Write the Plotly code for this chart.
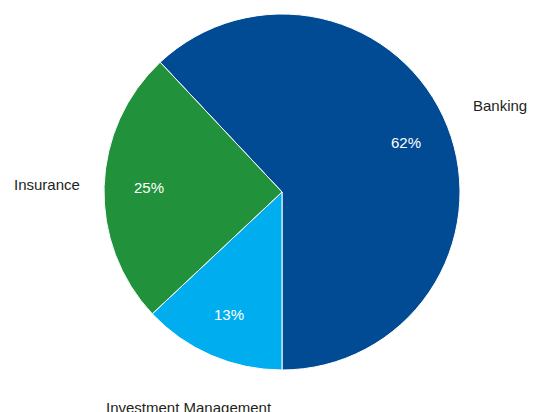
import numpy as np
import plotly.graph_objects as go

# Segment share of the business
segments = ["Banking", "Investment Management", "Insurance"]
shares = [62, 13, 25]
colors = ["#004B93", "#00AEEF", "#22913C"]

W, H = 543, 412
cx, cy, R = 282, 192, 178          # pie centre and radius in px
start_deg = -43.2                  # first slice starts here, clockwise from 12 o'clock

fig = go.Figure(go.Pie(
    labels=segments,
    values=shares,
    sort=False,
    direction="clockwise",
    rotation=start_deg,
    marker=dict(colors=colors, line=dict(color="white", width=1)),
    textinfo="none",
    hoverinfo="label+percent",
    showlegend=False,
    domain=dict(x=[(cx - R) / W, (cx + R) / W],
                y=[(H - cy - R) / H, (H - cy + R) / H]),
))

# Place percentage labels inside and category labels outside along each slice's mid-angle
total = float(sum(shares))
cum = 0.0
font_family = "Liberation Sans, Arial, Helvetica, sans-serif"
for name, val in zip(segments, shares):
    mid = np.deg2rad(start_deg + 360.0 * (cum + val / 2.0) / total)
    cum += val
    sx, sy = np.sin(mid), -np.cos(mid)
    for rfac, text, col in ((0.75, f"{round(100 * val / total)}%", "white"),
                            (1.32, name, "#231F20")):
        px = cx + rfac * R * sx
        py = cy + rfac * R * sy
        fig.add_annotation(
            x=px / W, y=(H - py) / H, xref="paper", yref="paper",
            text=text, showarrow=False, xanchor="center", yanchor="middle",
            font=dict(family=font_family, size=15, color=col),
        )

fig.update_layout(
    width=W, height=H,
    margin=dict(l=0, r=0, t=0, b=0),
    paper_bgcolor="white", plot_bgcolor="white",
)

fig.write_html("out.html")
